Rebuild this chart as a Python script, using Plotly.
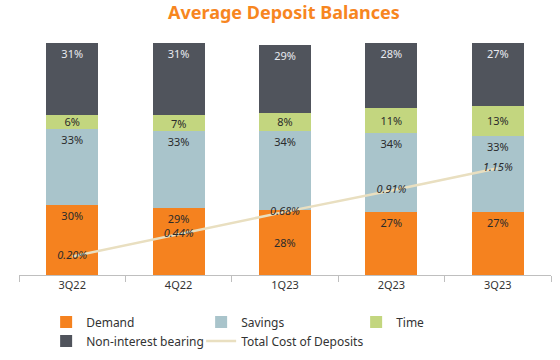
import plotly.graph_objects as go

quarters = ["3Q22", "4Q22", "1Q23", "2Q23", "3Q23"]
demand = [30, 29, 28, 27, 27]
savings = [33, 33, 34, 34, 33]
time_dep = [6, 7, 8, 11, 13]
non_interest = [31, 31, 29, 28, 27]
cost_of_deposits = [0.20, 0.44, 0.68, 0.91, 1.15]

FONT = "Noto Sans"
fig = go.Figure()

def add_bar(name, vals, color, txtcolor, anchor, texts=None):
    fig.add_trace(go.Bar(
        x=quarters, y=vals, name=name, marker=dict(color=color, line=dict(width=0)),
        text=texts if texts is not None else [f"{v}%" for v in vals],
        textposition="inside", insidetextanchor=anchor,
        textfont=dict(family=FONT, size=11, color=txtcolor), textangle=0,
        constraintext="none", width=0.49,
    ))

# 1Q23 demand label is centred in its segment (to clear the line label); others sit at the top
demand_texts = [f"{v}%" if i != 2 else "" for i, v in enumerate(demand)]
add_bar("Demand", demand, "#F5821F", "#2b2b2b", "end", demand_texts)
add_bar("Savings", savings, "#A9C4CB", "#2b2b2b", "end")
add_bar("Time", time_dep, "#C3D67F", "#2b2b2b", "middle")
add_bar("Non-interest bearing", non_interest, "#50545C", "#E8EAF0", "end")

fig.add_annotation(x=quarters[2], y=demand[2] / 2, text=f"{demand[2]}%", showarrow=False,
                   font=dict(family=FONT, size=11, color="#2b2b2b"))

fig.add_trace(go.Scatter(
    x=quarters, y=cost_of_deposits, name="Total Cost of Deposits", yaxis="y2",
    mode="lines+text", line=dict(color="#E9DFC0", width=2.5),
    text=[f"{v:.2f}%" for v in cost_of_deposits], textposition="middle center",
    textfont=dict(family=FONT, size=11, color="#2b2b2b", style="italic"),
))

fig.update_layout(
    width=560, height=360,
    barmode="stack", bargap=0.5,
    plot_bgcolor="white", paper_bgcolor="white",
    margin=dict(l=19, r=9, t=43, b=85, autoexpand=False),
    title=dict(text="<b>Average Deposit Balances</b>", x=0.507, xanchor="center", y=0.964, yanchor="middle",
               font=dict(family=FONT, size=18, color="#F7861F")),
    xaxis=dict(showline=True, linecolor="#BFBFBF", linewidth=1, ticks="outside", tickson="boundaries",
               ticklen=6, tickcolor="#BFBFBF", tickfont=dict(family=FONT, size=11, color="#333333"),
               range=[-0.5, 4.5]),
    yaxis=dict(visible=False, range=[0, 100]),
    yaxis2=dict(visible=False, range=[0, 2.5], overlaying="y"),
    legend=dict(orientation="h", x=0.051, y=-0.14, xanchor="left", yanchor="top",
                entrywidth=110, itemwidth=30, tracegroupgap=0, traceorder="normal",
                font=dict(family=FONT, size=12, color="#333333")),
    showlegend=True,
)

fig.write_html("out.html", config={"displayModeBar": False},
               post_script="document.body.style.margin='0';document.body.style.padding='0';")
